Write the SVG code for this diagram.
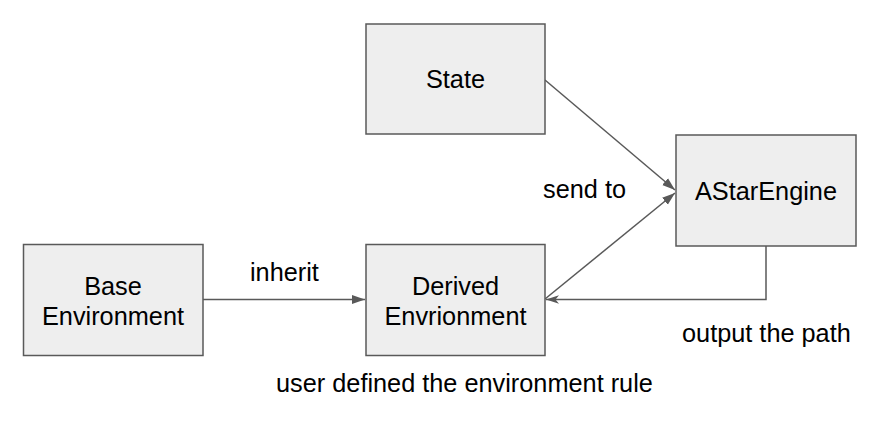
<svg xmlns="http://www.w3.org/2000/svg" width="888" height="433" viewBox="0 0 888 433">
<style>
.box{fill:#eeeeee;stroke:#595959;stroke-width:1.5}
.t{font-family:"Liberation Sans",Arial,sans-serif;font-size:25.3px;fill:#000}
.c{text-anchor:middle}
.ln{fill:none;stroke:#595959;stroke-width:1.5}
</style>
<defs>
<marker id="ah" markerWidth="14" markerHeight="10" refX="13" refY="5" orient="auto" markerUnits="userSpaceOnUse">
<path d="M0,0.5 L13,5 L0,9.5 Z" fill="#595959"/>
</marker>
<marker id="ao" markerWidth="14" markerHeight="10" refX="13" refY="5" orient="auto" markerUnits="userSpaceOnUse">
<path d="M0,0.8 L13,5 L0,9.2 L3.5,5 Z" fill="#595959"/>
</marker>
</defs>
<rect width="888" height="433" fill="#ffffff"/>
<g id="connectors">
<line class="ln" x1="545" y1="80" x2="675" y2="190" marker-end="url(#ah)"/>
<line class="ln" x1="545" y1="299" x2="675" y2="193" marker-end="url(#ah)"/>
<line class="ln" x1="203" y1="299.5" x2="365" y2="299.5" marker-end="url(#ah)"/>
<path class="ln" d="M766,246 V299.5 H546" marker-end="url(#ao)"/>
<text class="t" x="250" y="281">inherit</text>
<text class="t" x="543" y="198">send to</text>
<text class="t" x="682" y="342">output the path</text>
<text class="t" x="276" y="392">user defined the environment rule</text>
</g>
<g id="state">
<rect class="box" x="366" y="24" width="179" height="110"/>
<text class="t c" x="455.5" y="88">State</text>
</g>
<g id="astar">
<rect class="box" x="676" y="135" width="180" height="111"/>
<text class="t c" x="766" y="200">AStarEngine</text>
</g>
<g id="base">
<rect class="box" x="23.5" y="244.5" width="179.5" height="111"/>
<text class="t c" x="113" y="295">Base</text>
<text class="t c" x="113" y="325">Environment</text>
</g>
<g id="derived">
<rect class="box" x="366" y="244.5" width="179" height="111"/>
<text class="t c" x="455.5" y="295">Derived</text>
<text class="t c" x="455.5" y="325">Envrionment</text>
</g>
</svg>
